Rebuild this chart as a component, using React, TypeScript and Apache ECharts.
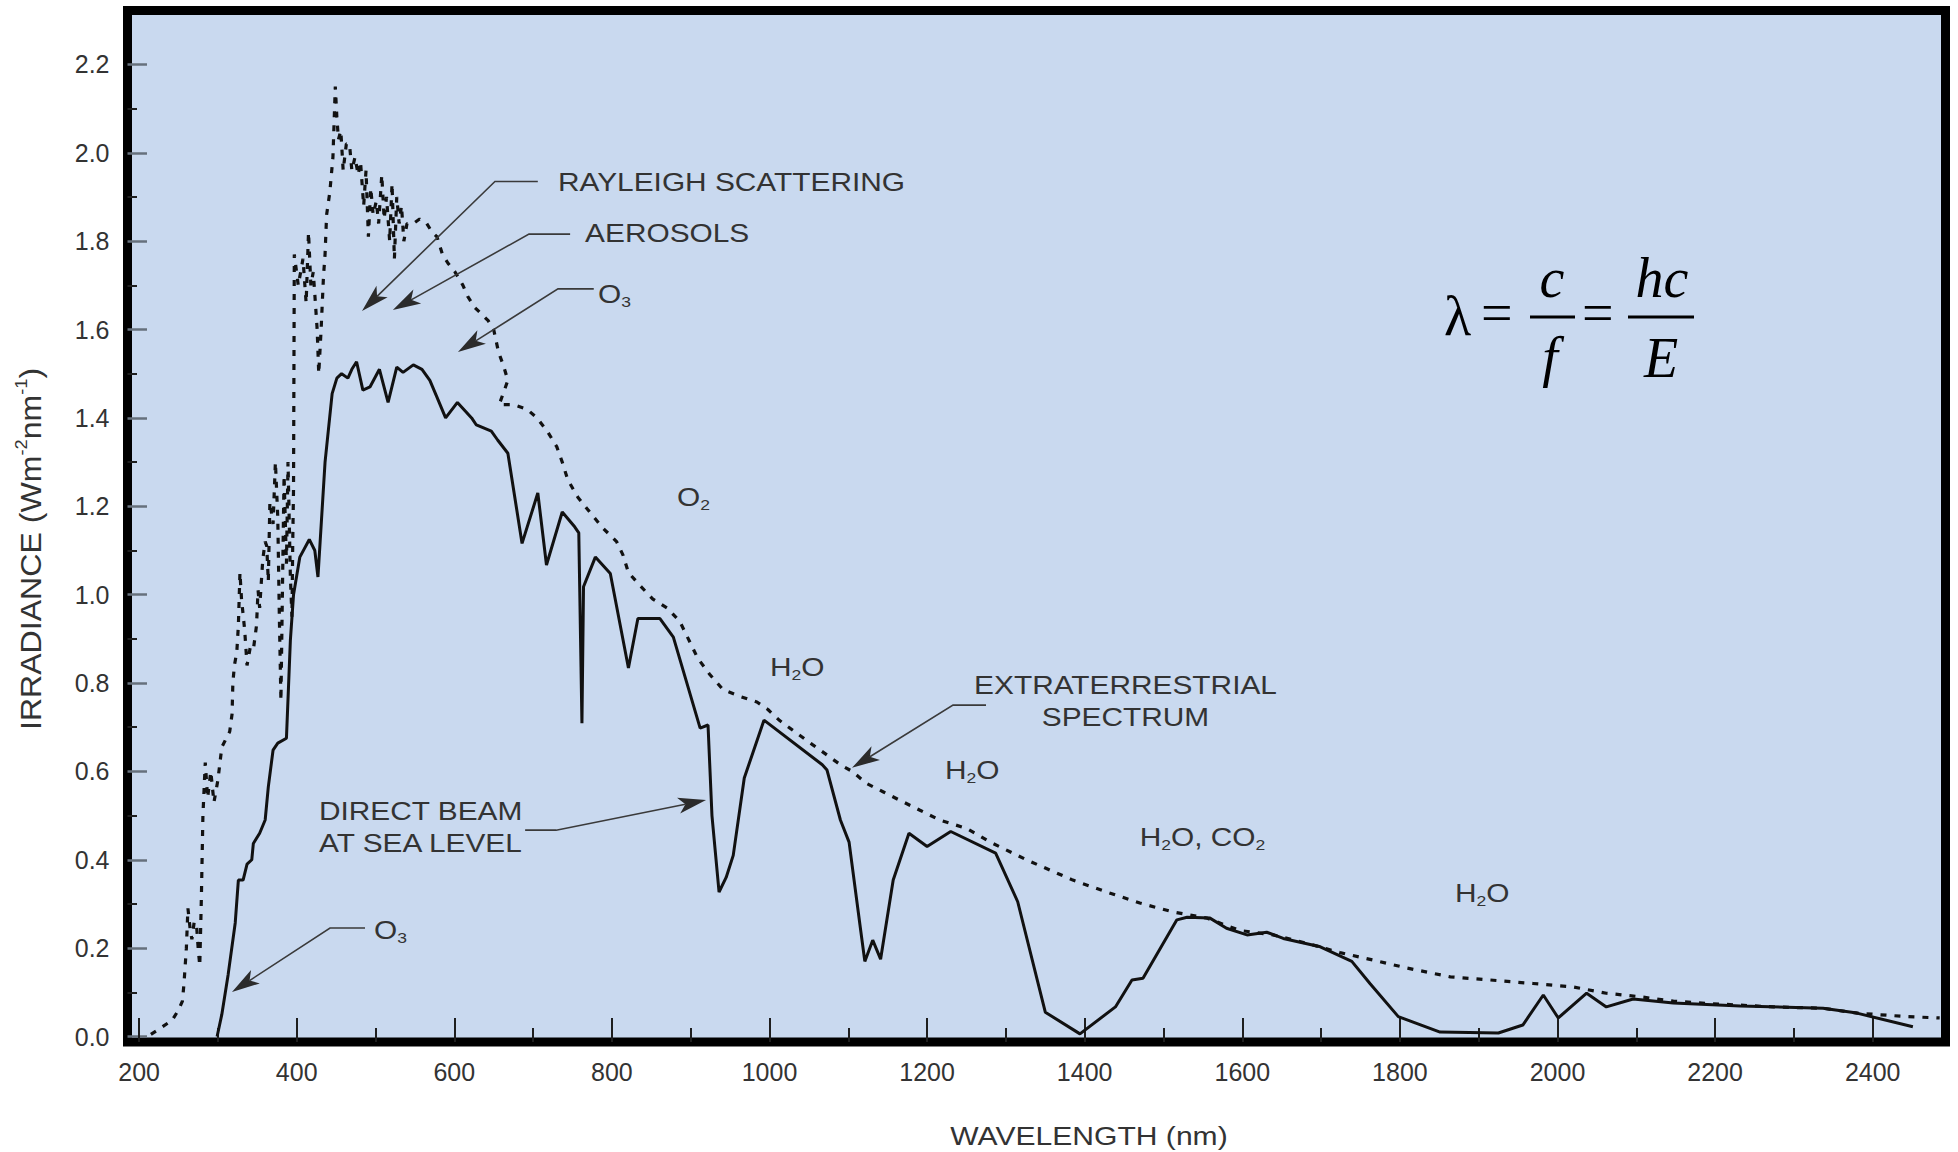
import React, { useEffect, useRef } from "react";
import * as echarts from "echarts";

// Tick values (nm on x, W m^-2 nm^-1 on y)
const WAVELENGTH_TICKS = [200, 400, 600, 800, 1000, 1200, 1400, 1600, 1800, 2000, 2200, 2400];
const WAVELENGTH_MINOR_TICKS = [300, 500, 700, 900, 1100, 1300, 1500, 1700, 1900, 2100, 2300];
const IRRADIANCE_TICKS = [0, 0.2, 0.4, 0.6, 0.8, 1.0, 1.2, 1.4, 1.6, 1.8, 2.0, 2.2];
const IRRADIANCE_MINOR_TICKS = [0.1, 0.3, 0.5, 0.7, 0.9, 1.1, 1.3, 1.5, 1.7, 1.9, 2.1];

// Solar spectrum above the atmosphere: [wavelength nm, irradiance]
const EXTRATERRESTRIAL: [number, number][] = [
  [215, 0.005], [228, 0.02], [242, 0.037], [250, 0.06], [255, 0.08], [257, 0.12],
  [260, 0.2], [262, 0.29], [265, 0.24], [267, 0.22], [270, 0.26], [273, 0.25],
  [275, 0.2], [277, 0.16], [279, 0.31], [281, 0.5], [284, 0.62], [287, 0.54],
  [291, 0.6], [295, 0.53], [300, 0.58], [305, 0.655], [315, 0.69], [318, 0.73],
  [319, 0.8], [321, 0.84], [324, 0.87], [326, 0.93], [328, 1.05], [330, 0.99],
  [334, 0.92], [337, 0.84], [341, 0.88], [345, 0.875], [349, 0.93], [351, 1.01],
  [353, 0.97], [357, 1.08], [360, 1.12], [362, 1.11], [364, 1.03], [366, 1.21],
  [370, 1.16], [373, 1.3], [376, 1.175], [378, 0.95], [380, 0.76], [382, 1.02],
  [384, 1.27], [387, 1.07], [389, 1.3], [392, 1.04], [394, 0.95], [395, 1.12],
  [396, 1.24], [397, 1.77], [402, 1.7], [408, 1.76], [412, 1.66], [415, 1.82],
  [418, 1.7], [421, 1.73], [423, 1.68], [426, 1.6], [428, 1.5], [431, 1.6],
  [434, 1.72], [436, 1.77], [438, 1.86], [442, 1.91], [446, 1.99], [449, 2.15],
  [451, 2.08], [453, 2.03], [456, 2.05], [459, 1.96], [463, 2.02], [467, 2.02],
  [470, 1.96], [474, 1.99], [478, 1.95], [481, 1.98], [485, 1.88], [488, 1.96],
  [491, 1.81], [494, 1.92], [497, 1.86], [501, 1.89], [504, 1.84], [508, 1.95],
  [511, 1.85], [514, 1.9], [518, 1.8], [521, 1.93], [524, 1.76], [527, 1.9],
  [530, 1.84], [533, 1.88], [536, 1.8], [540, 1.84], [548, 1.84], [556, 1.85],
  [565, 1.84], [572, 1.82], [578, 1.81], [585, 1.77], [592, 1.75], [601, 1.73],
  [611, 1.7], [617, 1.675], [626, 1.65], [643, 1.62], [650, 1.6], [656, 1.55],
  [663, 1.515], [668, 1.485], [662, 1.455], [657, 1.43], [675, 1.43], [692, 1.42],
  [705, 1.4], [718, 1.37], [730, 1.335], [737, 1.3], [744, 1.26], [757, 1.22],
  [775, 1.18], [789, 1.15], [806, 1.12], [814, 1.09], [821, 1.05], [836, 1.02],
  [852, 0.99], [870, 0.97], [886, 0.94], [897, 0.9], [909, 0.856], [924, 0.82],
  [941, 0.785], [962, 0.77], [984, 0.757], [998, 0.74], [1013, 0.715], [1035, 0.686],
  [1055, 0.66], [1073, 0.637], [1090, 0.615], [1105, 0.6], [1123, 0.573], [1144, 0.554],
  [1165, 0.535], [1191, 0.512], [1216, 0.49], [1250, 0.471], [1280, 0.44], [1326, 0.4],
  [1385, 0.354], [1428, 0.327], [1470, 0.302], [1512, 0.282], [1555, 0.268], [1597, 0.24],
  [1639, 0.23], [1682, 0.211], [1724, 0.19], [1766, 0.173], [1809, 0.155], [1864, 0.135],
  [1914, 0.128], [1969, 0.12], [2020, 0.112], [2062, 0.098], [2105, 0.09], [2147, 0.08],
  [2189, 0.075], [2274, 0.067], [2337, 0.064], [2380, 0.053], [2443, 0.045], [2485, 0.042],
];

// Direct beam at sea level: [wavelength nm, irradiance]
const DIRECT_BEAM: [number, number][] = [
  [299, 0.0], [305, 0.05], [313, 0.14], [322, 0.257], [326, 0.354], [332, 0.354],
  [337, 0.39], [343, 0.4], [345, 0.437], [353, 0.46], [360, 0.49], [364, 0.565],
  [370, 0.648], [376, 0.664], [387, 0.675], [392, 0.897], [396, 1.0], [404, 1.085],
  [416, 1.125], [423, 1.1], [427, 1.04], [436, 1.3], [445, 1.455], [451, 1.49],
  [457, 1.5], [465, 1.49], [470, 1.51], [476, 1.527], [484, 1.463], [493, 1.47],
  [505, 1.51], [516, 1.435], [527, 1.515], [535, 1.503], [548, 1.52], [559, 1.51],
  [569, 1.485], [578, 1.447], [589, 1.4], [604, 1.435], [622, 1.4], [628, 1.384],
  [647, 1.37], [655, 1.35], [668, 1.32], [686, 1.116], [706, 1.23], [717, 1.067],
  [737, 1.187], [753, 1.153], [758, 1.14], [762, 0.709], [764, 1.018], [779, 1.085],
  [798, 1.048], [821, 0.834], [833, 0.946], [861, 0.946], [878, 0.904], [912, 0.698],
  [922, 0.705], [927, 0.5], [936, 0.327], [945, 0.36], [954, 0.41], [968, 0.585],
  [993, 0.716], [1067, 0.615], [1073, 0.603], [1090, 0.49], [1101, 0.44], [1115, 0.25],
  [1121, 0.17], [1131, 0.218], [1141, 0.175], [1157, 0.354], [1177, 0.46], [1200, 0.43],
  [1230, 0.464], [1287, 0.415], [1315, 0.305], [1350, 0.055], [1394, 0.006], [1439, 0.067],
  [1460, 0.128], [1474, 0.132], [1517, 0.264], [1530, 0.27], [1559, 0.268], [1580, 0.245],
  [1606, 0.23], [1631, 0.236], [1652, 0.222], [1699, 0.203], [1739, 0.17], [1762, 0.12],
  [1798, 0.045], [1851, 0.01], [1925, 0.008], [1956, 0.026], [1982, 0.094], [2001, 0.042],
  [2037, 0.098], [2062, 0.067], [2096, 0.085], [2147, 0.076], [2232, 0.069], [2337, 0.064],
  [2380, 0.053], [2451, 0.022],
];

// Absorption labels; positions and leader points are in data coordinates,
// the last leader point is where the arrow tip lands.
type Annotation = {
  lines: string[];
  at: [number, number];
  align: "left" | "center";
  leader?: [number, number][];
};

const ANNOTATIONS: Annotation[] = [
  { lines: ["RAYLEIGH SCATTERING"], at: [731.6, 1.934], align: "left", leader: [[706, 1.935], [651.6, 1.935], [482.9, 1.642]] },
  { lines: ["AEROSOLS"], at: [766, 1.818], align: "left", leader: [[747, 1.816], [694.8, 1.816], [522, 1.644]] },
  { lines: ["O{sub|3}"], at: [782.4, 1.68], align: "left", leader: [[777, 1.692], [731.6, 1.692], [604.7, 1.549]] },
  { lines: ["O{sub|2}"], at: [882.6, 1.221], align: "left" },
  { lines: ["H{sub|2}O"], at: [1000.6, 0.836], align: "left" },
  { lines: ["EXTRATERRESTRIAL", "SPECTRUM"], at: [1451.8, 0.795], align: "center", leader: [[1274.8, 0.75], [1232.9, 0.75], [1104.7, 0.608]] },
  { lines: ["H{sub|2}O"], at: [1222.7, 0.603], align: "left" },
  { lines: ["H{sub|2}O, CO{sub|2}"], at: [1469.8, 0.452], align: "left" },
  { lines: ["H{sub|2}O"], at: [1869.9, 0.325], align: "left" },
  { lines: ["DIRECT BEAM", "AT SEA LEVEL"], at: [428.3, 0.51], align: "left", leader: [[689.9, 0.467], [729.2, 0.467], [919.5, 0.535]] },
  { lines: ["O{sub|3}"], at: [498.2, 0.241], align: "left", leader: [[486.7, 0.2455], [442.3, 0.2455], [317.9, 0.1007]] },
];

const SANS = "'Liberation Sans', Arial, Helvetica, sans-serif";
const SERIF = "'Liberation Serif', 'Times New Roman', serif";
const TEXT_COLOR = "#333333";
const LINE_COLOR = "#111111";
const LABEL_SIZE = 25.5;
const LABEL_STRETCH = 1.17;
const LINE_STEP = 32;

const SUB_RICH = {
  sub: { fontSize: 15, fontFamily: SANS, fill: TEXT_COLOR, verticalAlign: "bottom", lineHeight: 15 },
};
const SUP_RICH = {
  sup: { fontSize: 17, fontFamily: SANS, fill: TEXT_COLOR, verticalAlign: "top", lineHeight: 17 },
};

function textEl(text: string, x: number, y: number, opts: any = {}) {
  const align = opts.align || "left";
  const vAlign = opts.verticalAlign || "middle";
  return {
    type: "text",
    x,
    y,
    z: 10,
    scaleX: opts.scaleX ?? 1,
    rotation: opts.rotation ?? 0,
    silent: true,
    style: {
      text,
      fontSize: opts.fontSize ?? LABEL_SIZE,
      fontFamily: opts.fontFamily ?? SANS,
      fontStyle: opts.fontStyle ?? "normal",
      fill: opts.fill ?? TEXT_COLOR,
      lineHeight: opts.lineHeight ?? 30,
      align,
      verticalAlign: vAlign,
      textAlign: align,
      textVerticalAlign: vAlign,
      rich: opts.rich ?? SUB_RICH,
    },
  };
}

function arrowHead(tip: number[], from: number[]) {
  const dx = tip[0] - from[0];
  const dy = tip[1] - from[1];
  const len = Math.hypot(dx, dy) || 1;
  const ux = dx / len;
  const uy = dy / len;
  const nx = -uy;
  const ny = ux;
  const L = 28;
  const W = 8;
  const bx = tip[0] - ux * L;
  const by = tip[1] - uy * L;
  const notch = [tip[0] - ux * L * 0.75, tip[1] - uy * L * 0.75];
  return {
    notch,
    points: [tip, [bx + nx * W, by + ny * W], notch, [bx - nx * W, by - ny * W]],
  };
}

function buildGraphics(chart: echarts.ECharts) {
  const px = (p: [number, number]) =>
    chart.convertToPixel({ xAxisIndex: 0, yAxisIndex: 0 }, p) as number[];
  const els: any[] = [];

  ANNOTATIONS.forEach((a) => {
    const [x0, y0] = px(a.at);
    a.lines.forEach((line, i) => {
      els.push(textEl(line, x0, y0 + i * LINE_STEP, { align: a.align, scaleX: LABEL_STRETCH }));
    });
    if (a.leader) {
      const pts = a.leader.map(px);
      const tip = pts[pts.length - 1];
      const prev = pts[pts.length - 2];
      const head = arrowHead(tip, prev);
      els.push({
        type: "polyline",
        z: 9,
        silent: true,
        shape: { points: [...pts.slice(0, -1), head.notch] },
        style: { stroke: "#3a3a3a", lineWidth: 1.6, fill: null },
      });
      els.push({
        type: "polygon",
        z: 9,
        silent: true,
        shape: { points: head.points },
        style: { fill: "#2b2b2b" },
      });
    }
  });

  // Axis titles
  els.push(
    textEl("WAVELENGTH (nm)", 1089, 1136, { align: "center", scaleX: 1.18 })
  );
  els.push(
    textEl("IRRADIANCE (Wm{sup|-2}nm{sup|-1})", 31, 549, {
      align: "center",
      fontSize: 30,
      lineHeight: 36,
      rotation: Math.PI / 2,
      scaleX: 1.07,
      rich: SUP_RICH,
    })
  );

  // Wavelength relation, set in a serif face
  const f = { fontFamily: SERIF, fontSize: 56, fill: "#000", lineHeight: 60 };
  const it = { ...f, fontStyle: "italic" };
  els.push(textEl("λ", 1444, 316, { ...f }));
  els.push(textEl("=", 1481, 313, { ...f }));
  els.push(textEl("c", 1552, 278, { ...it, align: "center" }));
  els.push(textEl("f", 1550, 357, { ...it, align: "center" }));
  els.push(textEl("=", 1582, 313, { ...f }));
  els.push(textEl("hc", 1662, 278, { ...it, align: "center" }));
  els.push(textEl("E", 1661, 358, { ...it, align: "center" }));
  els.push({ type: "rect", z: 10, silent: true, shape: { x: 1530, y: 315.5, width: 45, height: 3 }, style: { fill: "#000" } });
  els.push({ type: "rect", z: 10, silent: true, shape: { x: 1628, y: 315.5, width: 66, height: 3 }, style: { fill: "#000" } });

  return els;
}

const X_MIN = 185.3;
const X_MAX = 2492.4;
const Y_MIN = -0.0124;
const Y_MAX = 2.322;

function buildOption(): any {
  const tickFont = { fontSize: 25, fontFamily: SANS, color: TEXT_COLOR };
  const baseX = {
    type: "value",
    min: X_MIN,
    max: X_MAX,
    position: "bottom",
    axisLine: { show: false, onZero: false },
    splitLine: { show: false },
  };
  const baseY = {
    type: "value",
    min: Y_MIN,
    max: Y_MAX,
    position: "left",
    axisLine: { show: false, onZero: false },
    splitLine: { show: false },
  };
  return {
    animation: false,
    backgroundColor: "#ffffff",
    grid: {
      left: 127.5,
      right: 12.5,
      top: 10.5,
      bottom: 110,
      show: true,
      backgroundColor: "#c9d9ef",
      borderColor: "#000000",
      borderWidth: 9,
      containLabel: false,
      outerBoundsMode: "none",
    },
    xAxis: [
      {
        ...baseX,
        axisTick: { show: true, inside: true, length: 24, customValues: WAVELENGTH_TICKS, lineStyle: { color: "#1e1e1e", width: 2 } },
        axisLabel: {
          show: true,
          customValues: WAVELENGTH_TICKS,
          margin: 17,
          formatter: (v: number) => String(Math.round(v)),
          ...tickFont,
        },
      },
      {
        ...baseX,
        axisTick: { show: true, inside: true, length: 14, customValues: WAVELENGTH_MINOR_TICKS, lineStyle: { color: "#1e1e1e", width: 2 } },
        axisLabel: { show: false },
      },
    ],
    yAxis: [
      {
        ...baseY,
        axisTick: { show: true, inside: true, length: 19.5, customValues: IRRADIANCE_TICKS, lineStyle: { color: "#66707c", width: 2.5 } },
        axisLabel: {
          show: true,
          customValues: IRRADIANCE_TICKS,
          margin: 18,
          formatter: (v: number) => v.toFixed(1),
          ...tickFont,
        },
      },
      {
        ...baseY,
        axisTick: { show: true, inside: true, length: 9.5, customValues: IRRADIANCE_MINOR_TICKS, lineStyle: { color: "#1e1e1e", width: 2 } },
        axisLabel: { show: false },
      },
    ],
    series: [
      {
        name: "Extraterrestrial spectrum",
        type: "line",
        xAxisIndex: 0,
        yAxisIndex: 0,
        data: EXTRATERRESTRIAL,
        showSymbol: false,
        symbol: "none",
        silent: true,
        z: 3,
        lineStyle: { color: LINE_COLOR, width: 3.2, type: [6, 8] },
      },
      {
        name: "Direct beam at sea level",
        type: "line",
        xAxisIndex: 0,
        yAxisIndex: 0,
        data: DIRECT_BEAM,
        showSymbol: false,
        symbol: "none",
        silent: true,
        z: 4,
        lineStyle: { color: LINE_COLOR, width: 3, type: "solid" },
      },
    ],
  };
}

export default function App() {
  const ref = useRef<HTMLDivElement>(null);
  useEffect(() => {
    const el = ref.current;
    if (!el) return;
    const chart = echarts.init(el, null, { renderer: "svg" });
    chart.setOption(buildOption());
    chart.setOption({ graphic: { elements: buildGraphics(chart) } });
    return () => chart.dispose();
  }, []);
  return (
    <div
      ref={ref}
      style={{ position: "fixed", left: 0, top: 0, width: 1958, height: 1152, background: "#ffffff" }}
    />
  );
}
